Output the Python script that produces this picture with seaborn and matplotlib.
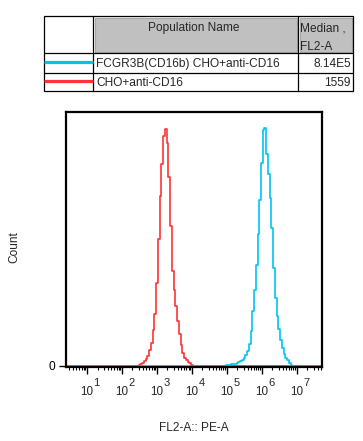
import numpy as np
import pandas as pd
import matplotlib
matplotlib.use("Agg")
import matplotlib.pyplot as plt
import seaborn as sns
from matplotlib.ticker import FixedLocator, LogLocator, NullFormatter
from matplotlib.patches import Rectangle

# populations in the overlay (legend table order)
populations = ["FCGR3B(CD16b) CHO+anti-CD16", "CHO+anti-CD16"]
medians = ["8.14E5", "1559"]
colors = ["#00c3f3", "#ff3333"]

# histogram channels: log10(FL2-A) bin centres, 0.05 decade wide
bin_width = 0.05
red_first_bin = 2.40
red_counts = [0, 0, 1, 2, 3, 5, 7, 10, 16, 23,
              36, 52, 83, 127, 170, 202, 230, 237, 223, 189,
              140, 95, 76, 60, 45, 32, 21, 13, 8, 6,
              4, 3, 1, 0, 0]
blue_first_bin = 4.90
blue_counts = [0, 0, 1, 1, 1, 2, 2, 2, 3, 4,
               5, 6, 8, 11, 15, 22, 35, 55, 76, 101,
               132, 166, 203, 236, 238, 212, 192, 168, 138, 98,
               68, 50, 37, 26, 18, 12, 8, 6, 3, 1,
               0, 0, 0]

x_min, x_max = 10 ** 0.4, 10 ** 7.72
major_exps = [1, 2, 3, 4, 5, 6, 7]


def hist_frame(name, first, counts):
    centres = 10 ** (first + bin_width * np.arange(len(counts)))
    x = np.concatenate([[x_min], centres, [x_max]])
    y = np.concatenate([[0], counts, [0]])
    return pd.DataFrame({"FL2-A": x, "Count": y, "Population": name})


df = pd.concat([hist_frame(populations[1], red_first_bin, red_counts),
                hist_frame(populations[0], blue_first_bin, blue_counts)])

sns.set_theme(style="ticks")
plt.rcParams["font.family"] = ["Liberation Sans", "DejaVu Sans"]

fs = 8.6
fig = plt.figure(figsize=(3.63, 4.41), dpi=100)

# ---- legend table drawn in pixel coordinates ----
tab = fig.add_axes([0, 0, 1, 1])
tab.set_xlim(0, 363)
tab.set_ylim(441, 0)
tab.axis("off")
tab.add_patch(Rectangle((94.5, 17.5), 202.5, 34, facecolor="#c0c0c0", edgecolor="#a8a8a8", lw=0.8))
tab.add_patch(Rectangle((299.5, 17.5), 52.5, 34, facecolor="#c0c0c0", edgecolor="#a8a8a8", lw=0.8))
tab.add_patch(Rectangle((44, 16), 309, 75, facecolor="none", edgecolor="black", lw=0.9))
for xv in [93, 298]:
    tab.plot([xv, xv], [16, 91], color="black", lw=0.9)
for yv in [52.5, 72.5]:
    tab.plot([44, 353], [yv, yv], color="black", lw=0.9)
tab.text(194, 31.5, "Population Name", ha="center", va="baseline", fontsize=fs)
tab.text(300, 31.5, "Median ,", ha="left", va="baseline", fontsize=fs)
tab.text(300, 50, "FL2-A", ha="left", va="baseline", fontsize=fs)
for i, (name, med, col) in enumerate(zip(populations, medians, colors)):
    yb = 67 + 19 * i
    tab.plot([44, 93], [yb - 5, yb - 5], color=col, lw=2.3, solid_capstyle="butt")
    tab.text(96, yb, name, ha="left", va="baseline", fontsize=fs)
    tab.text(351, yb, med, ha="right", va="baseline", fontsize=fs)

# ---- histogram overlay ----
ax = fig.add_axes([66 / 363, 1 - 367 / 441, 256 / 363, 255 / 441])
sns.lineplot(data=df, x="FL2-A", y="Count", hue="Population",
             hue_order=[populations[1], populations[0]],
             palette={populations[0]: colors[0], populations[1]: colors[1]},
             drawstyle="steps-mid", estimator=None, sort=False,
             legend=False, lw=1.2, ax=ax)
ax.set_xscale("log")
ax.set_xlim(x_min, x_max)
ax.set_ylim(-1.5, 254)

ax.xaxis.set_major_locator(FixedLocator([10.0 ** e for e in major_exps]))
ax.xaxis.set_major_formatter(NullFormatter())
ax.xaxis.set_minor_locator(LogLocator(base=10, subs=np.arange(2, 10), numticks=30))
ax.xaxis.set_minor_formatter(NullFormatter())
ax.set_yticks([0])
ax.set_yticklabels(["0"])

# decade labels: "10" centred under the tick, exponent raised to its right
px = 72 / 100  # points per pixel
for e in major_exps:
    ax.annotate("10", xy=(10.0 ** e, 0), xycoords=("data", "axes fraction"),
                xytext=(0, -28 * px), textcoords="offset points",
                ha="center", va="baseline", fontsize=8.4, annotation_clip=False)
    ax.annotate(str(e), xy=(10.0 ** e, 0), xycoords=("data", "axes fraction"),
                xytext=(6.5 * px, -18.5 * px), textcoords="offset points",
                ha="left", va="baseline", fontsize=8.0, annotation_clip=False)

ax.tick_params(axis="both", which="major", direction="out", length=5, width=1,
               color="black", labelsize=fs, pad=3, labelcolor="black")
ax.tick_params(axis="x", which="minor", direction="out", length=2.5, width=0.8, color="black")
for sp in ax.spines.values():
    sp.set_linewidth(1.6)
    sp.set_color("black")

ax.set_xlabel("FL2-A:: PE-A", fontsize=fs)
ax.set_ylabel("Count", fontsize=fs)
ax.xaxis.set_label_coords(0.5, -0.215)
ax.yaxis.set_label_coords(-0.18, 0.47)

fig.savefig("out.png", dpi=100)
